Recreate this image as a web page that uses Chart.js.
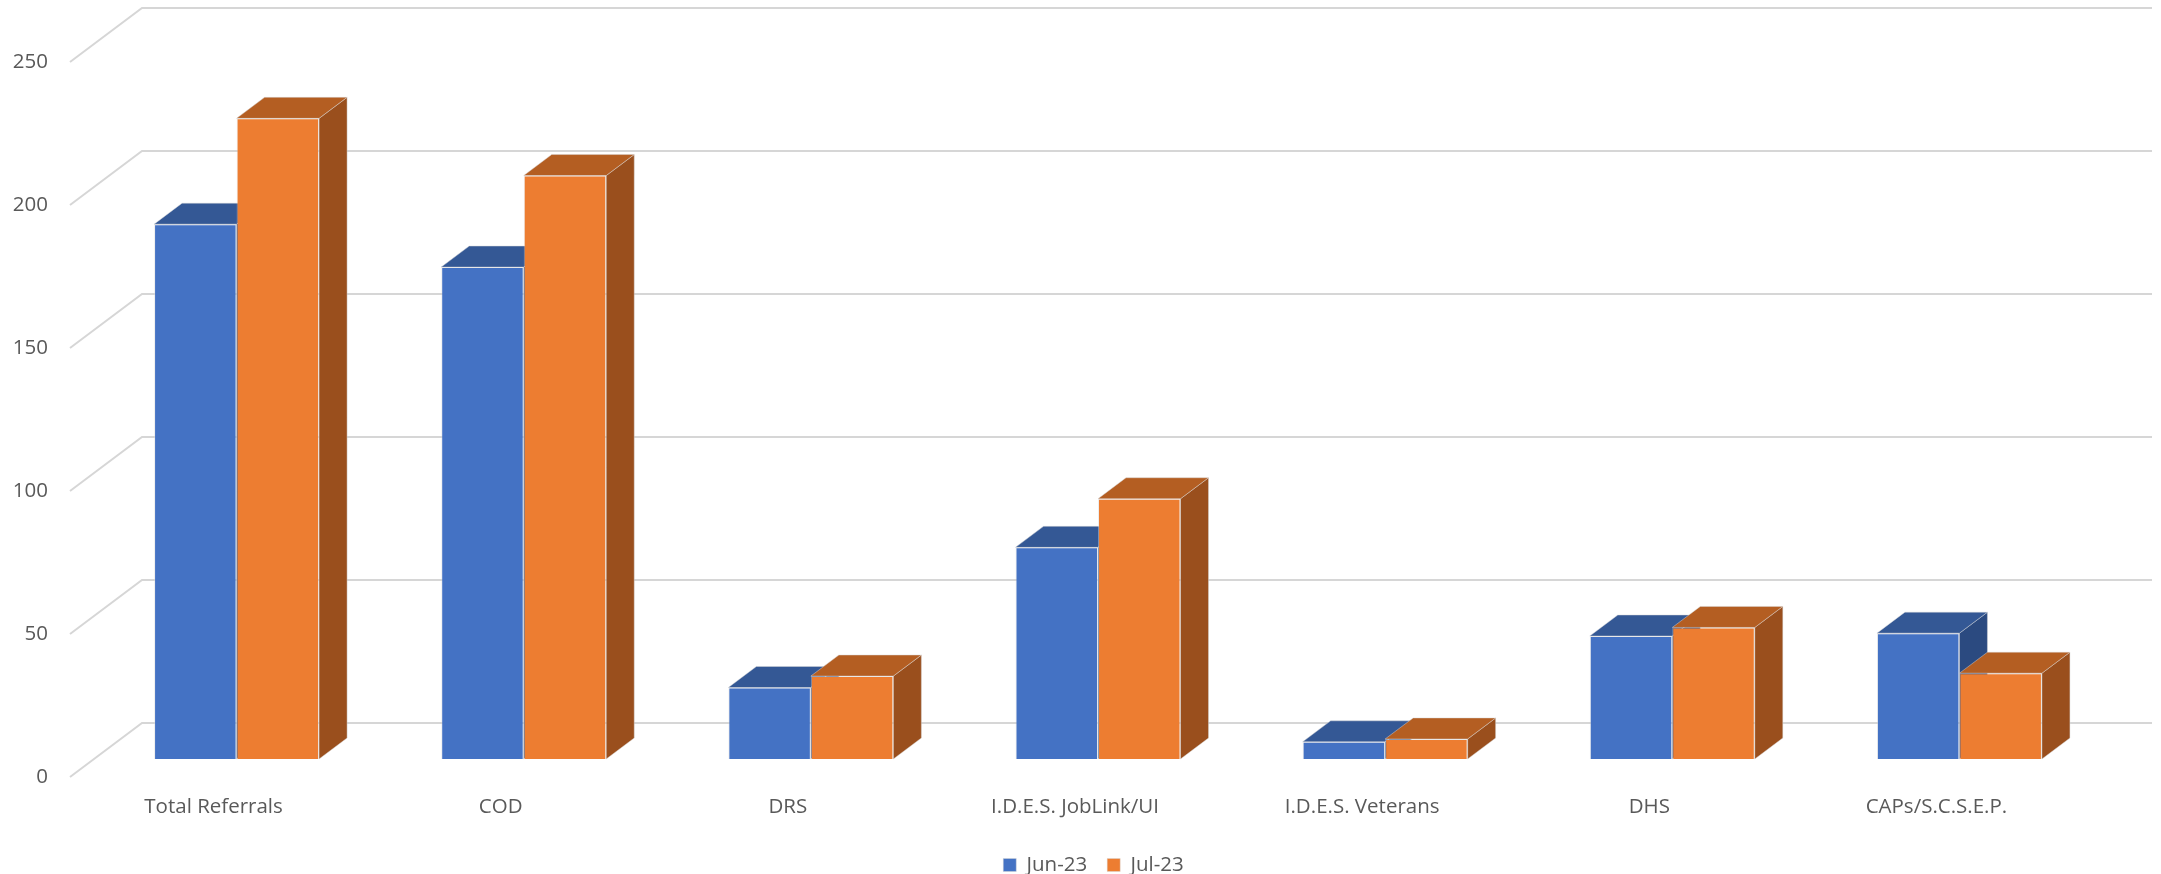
<!DOCTYPE html>
<html><head><meta charset="utf-8">
<script src="https://cdn.jsdelivr.net/npm/chart.js@4/dist/chart.umd.min.js"></script>
<style>html,body{margin:0;padding:0;background:#fff;} #wrap{width:2161px;height:874px;position:relative;}</style>
</head><body><div id="wrap"><canvas id="c"></canvas></div>
<script>
const categories = ['Total Referrals','COD','DRS','I.D.E.S. JobLink/UI','I.D.E.S. Veterans','DHS','CAPs/S.C.S.E.P.'];
const jun23 = [187,172,25,74,6,43,44];
const jul23 = [224,204,29,91,7,46,30];
const seriesNames = ['Jun-23','Jul-23'];
const yTicks = [0,50,100,150,200,250];

const FRONT = ['#4472C4','#ED7D31'];
const TOP = ['#345895','#B45E22'];
const SIDE = ['#2B4A80','#9A4F1D'];
const WALL = {dx:72, dy:-54};
const BAROFF = {dx:23, dy:-18};
const BARDEPTH = {dx:28, dy:-21};
const EDGE = 'rgba(215,215,215,0.45)';
const FONT = {family:'Open Sans', size:20.5};
const TXT = '#595959';

function poly(ctx, pts, fill){
  ctx.beginPath();
  ctx.moveTo(pts[0][0], pts[0][1]);
  for (let k=1;k<pts.length;k++) ctx.lineTo(pts[k][0], pts[k][1]);
  ctx.closePath();
  ctx.fillStyle = fill; ctx.fill();
  ctx.strokeStyle = EDGE; ctx.lineWidth = 1; ctx.stroke();
}

const threeD = {
  id:'threeD',
  beforeDatasetsDraw(chart){
    const ctx = chart.ctx, a = chart.chartArea, ys = chart.scales.y;
    ctx.save();
    ctx.strokeStyle = '#d6d6d6'; ctx.lineWidth = 2;
    yTicks.forEach(v => {
      const y = ys.getPixelForValue(v);
      ctx.beginPath();
      ctx.moveTo(a.left, y);
      ctx.lineTo(a.left + WALL.dx, y + WALL.dy);
      ctx.lineTo(a.right + WALL.dx, y + WALL.dy);
      ctx.stroke();
    });
    const metas = [chart.getDatasetMeta(0), chart.getDatasetMeta(1)];
    for (let i=0;i<categories.length;i++){
      metas.forEach((m,d) => {
        const el = m.data[i];
        const w = el.width;
        const x1 = el.x - w/2 + BAROFF.dx, x2 = el.x + w/2 + BAROFF.dx;
        const yt = el.y + BAROFF.dy, yb = el.base + BAROFF.dy;
        poly(ctx, [[x2,yt],[x2+BARDEPTH.dx,yt+BARDEPTH.dy],[x2+BARDEPTH.dx,yb+BARDEPTH.dy],[x2,yb]], SIDE[d]);
        poly(ctx, [[x1,yt],[x2,yt],[x2+BARDEPTH.dx,yt+BARDEPTH.dy],[x1+BARDEPTH.dx,yt+BARDEPTH.dy]], TOP[d]);
      });
    }
    ctx.restore();
    ctx.save();
    ctx.translate(BAROFF.dx, BAROFF.dy);
  },
  afterDatasetsDraw(chart){ chart.ctx.restore(); }
};

new Chart(document.getElementById('c'), {
  type:'bar',
  data:{
    labels: categories,
    datasets:[
      {label:seriesNames[0], data:jun23, backgroundColor:FRONT[0], borderColor:EDGE, borderWidth:1, clip:false},
      {label:seriesNames[1], data:jul23, backgroundColor:FRONT[1], borderColor:EDGE, borderWidth:1, clip:false}
    ]
  },
  plugins:[threeD],
  options:{
    responsive:true, maintainAspectRatio:false, animation:false,
    datasets:{bar:{barPercentage:1, categoryPercentage:0.5747}},
    layout:{padding:{left:0, right:-26, top:62, bottom:-11.25}},
    plugins:{
      legend:{position:'bottom', labels:{boxWidth:13, boxHeight:13, padding:20, font:FONT, color:TXT}},
      tooltip:{enabled:false}
    },
    scales:{
      x:{grid:{display:false, drawTicks:false, tickLength:0}, border:{display:false},
         ticks:{color:TXT, font:FONT, padding:18, maxRotation:0, autoSkip:false},
         afterFit(s){ s.height = 57.75; }},
      y:{min:0, max:250, grid:{display:false, drawTicks:false, tickLength:0}, border:{display:false},
         ticks:{color:TXT, font:FONT, padding:22},
         afterBuildTicks(s){ s.ticks = yTicks.map(v => ({value:v})); },
         afterFit(s){ s.width = 70; }},
      yRight:{position:'right', min:0, max:250, grid:{display:false, drawTicks:false, tickLength:0}, border:{display:false},
         ticks:{display:false},
         afterFit(s){ s.width = 107; }}
    }
  }
});
</script></body></html>
